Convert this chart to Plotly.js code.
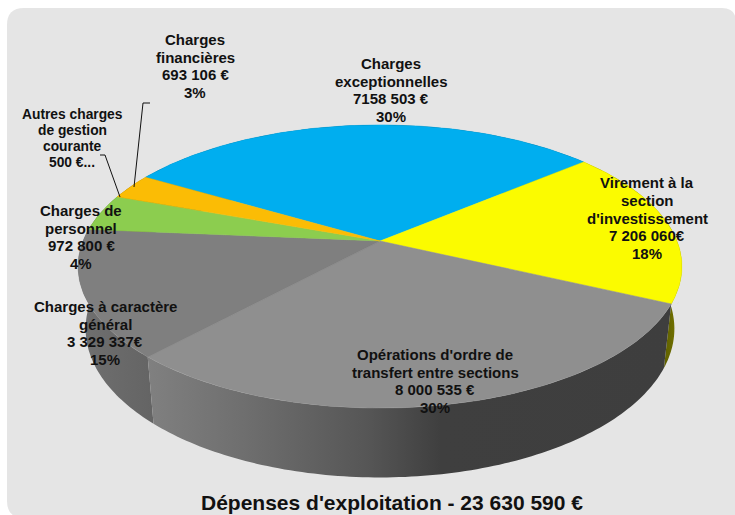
<!DOCTYPE html>
<html><head><meta charset="utf-8">
<script src="https://cdn.plot.ly/plotly-3.0.1.min.js"></script>
<style>html,body{margin:0;padding:0;background:#fff;overflow:hidden}#c{width:735px;height:515px}</style>
</head><body><div id="c"></div>
<script>
// Data
const names = ["Charges exceptionnelles","Virement à la section d'investissement","Opérations d'ordre de transfert entre sections","Charges à caractère général","Charges de personnel","Charges financières"];
const shares = [30.4, 18.1, 29.9, 14.5, 4.2, 2.9];
const labelLines = [
  ["Charges","exceptionnelles","7158 503 €","30%"],
  ["Virement à la","section","d'investissement","7 206 060€","18%"],
  ["Opérations d'ordre de","transfert entre sections","8 000 535 €","30%"],
  ["Charges à caractère","général","3 329 337€","15%"],
  ["Charges de","personnel","972 800 €","4%"],
  ["Charges","financières","693 106 €","3%"]
];
const otherLines = ["Autres charges","de gestion","courante","500 €..."];
const chartTitle = "Dépenses d'exploitation - 23 630 590 €";
const topColors = ["#00aeef","#fbfb00","#8f8f8f","#7f7f7f","#8ccd4f","#fbbc05"];
const sideScales = [
  [[0,"#005a7a"],[1,"#005a7a"]],
  [[0,"#5f5f00"],[1,"#7a7a00"]],
  [[0,"#808080"],[0.19,"#6e6e6e"],[0.42,"#565656"],[0.56,"#3f3f3f"],[1,"#3e3e3e"]],
  [[0,"#707070"],[1,"#646464"]],
  [[0,"#4a6a2a"],[1,"#4a6a2a"]],
  [[0,"#7f6000"],[1,"#7f6000"]]
];
const labelPos = [[391,90],[647,218],[435,381],[105,333],[81,237],[195,66]];

// perspective projection of the pie's disc
const CX=380, CY=241, A=297, B=137, P=0.18, START=-59.5;
function project(deg,r){
  const t=deg*Math.PI/180, u=r*Math.sin(t), v=-r*Math.cos(t), w=1/(1-P*v);
  return [CX+A*u*w, CY+B*v*w];
}
function lower(p){ return [CX+(p[0]-CX)*0.975, 302+1.05*(p[1]-CY)]; }
function arc(a0,a1){ const n=Math.max(4,Math.ceil(Math.abs(a1-a0))), out=[];
  for(let i=0;i<=n;i++) out.push(project(a0+(a1-a0)*i/n,1)); return out; }

const total=shares.reduce((a,b)=>a+b,0);
let ang=START; const spans=shares.map(s=>{const a0=ang; ang+=s/total*360; return [a0,ang];});

const traces=[];
[4,5,0,1,3,2].forEach(i=>{
  const [a0,a1]=spans[i], top=arc(a0,a1), xq=[], yq=[];
  let xmin=1e9,xmax=-1e9;
  for(let k=0;k<top.length-1;k++){
    const p=top[k],q=top[k+1],r=lower(q),s=lower(p);
    [p,q,r,s,p].forEach(z=>{xq.push(z[0]);yq.push(z[1]);xmin=Math.min(xmin,z[0]);xmax=Math.max(xmax,z[0]);});
    xq.push(null);yq.push(null);
  }
  if(i===1){xmin=664;xmax=682;}
  traces.push({type:"scatter",mode:"lines",x:xq,y:yq,fill:"toself",
    line:{width:0},hoverinfo:"skip",showlegend:false,
    fillgradient:{type:"horizontal",colorscale:sideScales[i],start:xmin,stop:xmax}});
});
spans.forEach(([a0,a1],i)=>{
  const poly=[[CX,CY]].concat(arc(a0,a1)); poly.push([CX,CY]);
  traces.push({type:"scatter",mode:"lines",x:poly.map(p=>p[0]),y:poly.map(p=>p[1]),fill:"toself",
    fillcolor:topColors[i],line:{width:0.5,color:topColors[i]},hoverinfo:"skip",showlegend:false});
});

const FAM="Liberation Sans, Arial, sans-serif";
function lineNotes(lines,cx,cy,size,gap){
  return lines.map((s,k)=>({xref:"x",yref:"y",x:cx,y:cy+(k-(lines.length-1)/2)*gap,showarrow:false,
    xanchor:"center",yanchor:"middle",font:{family:FAM,size:size,color:"#111"},text:"<b>"+s+"</b>"}));
}
let annotations=[];
labelLines.forEach((l,i)=>{annotations=annotations.concat(lineNotes(l,labelPos[i][0],labelPos[i][1],15,17.6));});
annotations=annotations.concat(lineNotes(otherLines,72,138,13.8,16));

const layout={width:735,height:515,margin:{l:0,r:0,t:0,b:0},paper_bgcolor:"#ffffff",plot_bgcolor:"rgba(0,0,0,0)",
  showlegend:false,
  xaxis:{range:[0,735],visible:false,fixedrange:true},
  yaxis:{range:[515,0],visible:false,fixedrange:true},
  title:{text:"<b>"+chartTitle+"</b>",x:392/735,xref:"paper",xanchor:"center",y:1-503/515,yref:"paper",yanchor:"middle",
    font:{family:FAM,size:21,color:"#111"}},
  annotations:annotations,
  shapes:[
   {type:"path",layer:"below",xref:"x",yref:"y",fillcolor:"#e5e5e5",line:{width:0},
    path:"M 7,25 Q 7,8 24,8 L 722,8 Q 736,8 736,22 L 736,518 L 24,518 Q 7,518 7,501 Z"},
   {type:"path",xref:"x",yref:"y",line:{color:"#111",width:1},path:"M 150,103 L 143,103 L 134,187"},
   {type:"path",xref:"x",yref:"y",line:{color:"#111",width:1},path:"M 100,155 L 105,155 L 120,197"}
  ]};
Plotly.newPlot("c",traces,layout,{displayModeBar:false,staticPlot:true});
</script></body></html>
